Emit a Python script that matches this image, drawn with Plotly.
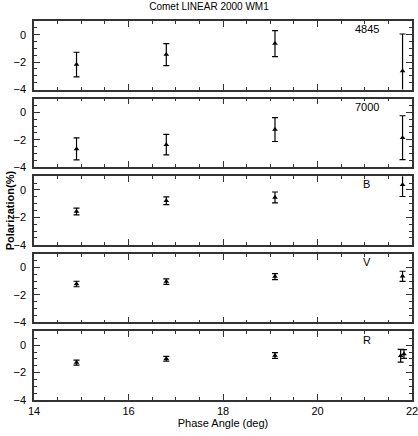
import plotly.graph_objects as go
from plotly.subplots import make_subplots

# phase angles (deg) and polarization (%) per filter
phase = [14.9, 16.8, 19.1, 21.8]
phase_r = [14.9, 16.8, 19.1, 21.76, 21.83]

p_4845 = [-2.18, -1.45, -0.65, -2.65]
e_4845 = [0.9, 0.8, 0.95, 2.7]
p_7000 = [-2.67, -2.36, -1.26, -1.85]
e_7000 = [0.8, 0.75, 0.87, 1.6]
p_b = [-1.57, -0.79, -0.55, 0.38]
e_b = [0.25, 0.28, 0.4, 0.86]
p_v = [-1.2, -1.02, -0.66, -0.64]
e_v = [0.2, 0.2, 0.22, 0.37]
p_r = [-1.27, -0.99, -0.75, -0.77, -0.64]
e_r = [0.18, 0.18, 0.21, 0.47, 0.32]

labels = ["4845", "7000", "B", "V", "R"]
panels = [
    (phase, p_4845, e_4845),
    (phase, p_7000, e_7000),
    (phase, p_b, e_b),
    (phase, p_v, e_v),
    (phase_r, p_r, e_r),
]

FONT = "Liberation Sans"

fig = make_subplots(rows=5, cols=1, shared_xaxes=True, vertical_spacing=0.024)

for i, (xs, ys, es) in enumerate(panels):
    fig.add_trace(go.Scatter(
        x=xs, y=ys,
        mode="markers",
        marker=dict(symbol="triangle-up", size=5, color="black"),
        error_y=dict(type="data", array=es, color="black", thickness=1.2, width=3),
        showlegend=False,
    ), row=i + 1, col=1)

    fig.update_yaxes(
        range=[-4, 1], tickvals=[0, -2, -4], ticks="inside", ticklen=6,
        tickcolor="#333", linecolor="#333", linewidth=1.5, mirror="ticks",
        showgrid=False, zeroline=False, automargin=False,
        ticklabelstandoff=4,
        minor=dict(dtick=0.5, ticks="inside", ticklen=3, tickcolor="#333"),
        tickfont=dict(family=FONT, size=11, color="black"),
        row=i + 1, col=1,
    )
    fig.update_xaxes(
        range=[14, 22], dtick=2, ticks="inside", ticklen=6,
        tickcolor="#333", linecolor="#333", linewidth=1.5, mirror="ticks",
        showgrid=False, zeroline=False, automargin=False,
        ticklabeloverflow="allow",
        minor=dict(dtick=0.5, ticks="inside", ticklen=3, tickcolor="#333"),
        tickfont=dict(family=FONT, size=11, color="black"),
        row=i + 1, col=1,
    )

    yref = "y domain" if i == 0 else f"y{i + 1} domain"
    xref = "x domain" if i == 0 else f"x{i + 1} domain"
    fig.add_annotation(
        x=0.88, y=0.88, xref=xref, yref=yref,
        text=labels[i], showarrow=False,
        xanchor="center", yanchor="middle",
        font=dict(family=FONT, size=11, color="black"),
    )

fig.update_xaxes(title=dict(text="Phase Angle (deg)", standoff=2,
                            font=dict(family=FONT, size=11, color="black")),
                 row=5, col=1)

fig.add_annotation(
    x=-0.085, y=0.5, xref="paper", yref="paper",
    text="<b>Polarization(%)</b>", textangle=-90, showarrow=False,
    font=dict(family=FONT, size=11, color="black"),
)

fig.update_layout(
    title=dict(text="Comet LINEAR 2000 WM1", x=0.5, y=0.985, xanchor="center",
               yanchor="middle", font=dict(family=FONT, size=10, color="black")),
    width=418, height=436,
    margin=dict(l=34, r=6, t=21, b=36),
    plot_bgcolor="white", paper_bgcolor="white",
)

# drop the default page margin so the figure sits at the window's top-left
fig.write_html("out.html", config={"displayModeBar": False},
               post_script="document.body.style.margin='0';")
